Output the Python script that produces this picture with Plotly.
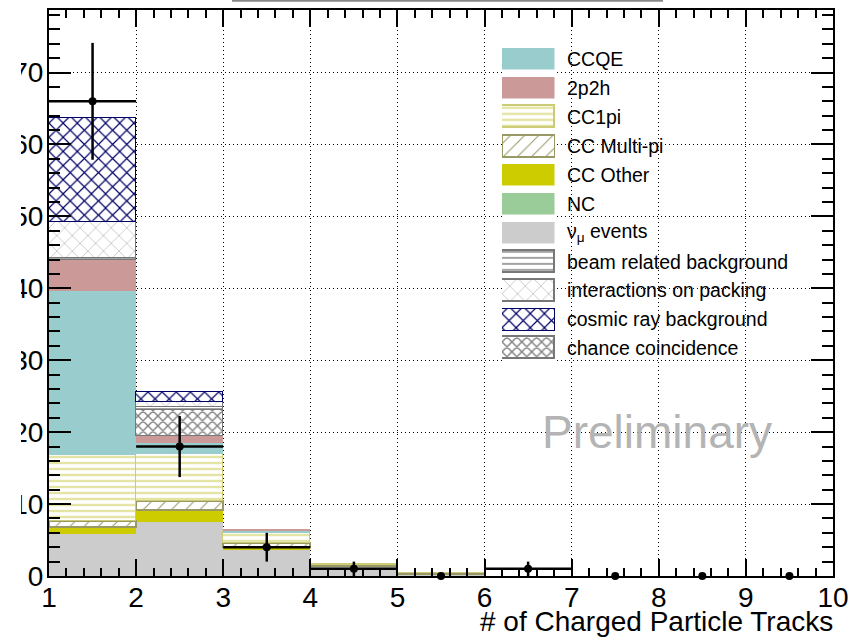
import math
import plotly.graph_objects as go

# Bin edges of the track-multiplicity histogram
bin_edges = [1, 2, 3, 4, 5, 6, 7, 8, 9, 10]

# Stacked MC components per bin (bottom of the stack first)
numu_events = [5.9, 7.45, 3.6, 1.3, 0.3, 0, 0, 0, 0]
cc_other = [0.8, 1.6, 0.45, 0.05, 0, 0, 0, 0, 0]
nc = [0.1, 0.1, 0.05, 0, 0, 0, 0, 0, 0]
cc_multipi = [0.8, 1.25, 0.55, 0.15, 0.05, 0, 0, 0, 0]
cc1pi = [9.2, 6.6, 1.4, 0.1, 0.05, 0, 0, 0, 0]
ccqe = [22.8, 1.5, 0.2, 0, 0, 0, 0, 0, 0]
two_p_two_h = [4.3, 0.9, 0.3, 0, 0, 0, 0, 0, 0]
chance_coincidence = [0, 3.7, 0, 0, 0, 0, 0, 0, 0]
beam_related = [0.25, 0.45, 0, 0, 0, 0, 0, 0, 0]
packing = [5.1, 0.7, 0, 0, 0, 0, 0, 0, 0]
cosmic = [14.4, 1.3, 0, 0, 0, 0, 0, 0, 0]

# Observed data counts
data_counts = [66, 18, 4, 1, 0, 1, 0, 0, 0]

y_ticks = [0, 10, 20, 30, 40, 50, 60, 70]
x_ticks = [1, 2, 3, 4, 5, 6, 7, 8, 9, 10]

FONT = "Liberation Sans, Arial, Helvetica, sans-serif"

# Drawing style for each component
styles = {
    "CCQE": dict(color="#99CCCC"),
    "2p2h": dict(color="#CC9999"),
    "CC1pi": dict(color="#FFFFFF", line="#CCCC77", lw=1.5,
                  pattern=dict(shape="-", fgcolor="#E4E4A4", bgcolor="#FFFFFF", size=6, solidity=0.4)),
    "CC Multi-pi": dict(color="#FFFFFF", line="#999966", lw=2,
                        pattern=dict(shape="/", fgcolor="#999966", bgcolor="#FFFFFF", size=10, solidity=0.1)),
    "CC Other": dict(color="#CCCC00"),
    "NC": dict(color="#99CC99"),
    "nu_mu": dict(color="#CCCCCC"),
    "beam related background": dict(color="#FFFFFF", line="#777777", lw=1.5,
                                    pattern=dict(shape="-", fgcolor="#999999", bgcolor="#FFFFFF", size=6, solidity=0.3)),
    "interactions on packing": dict(color="#FFFFFF", line="#777777", lw=1.5,
                                    pattern=dict(shape="x", fgcolor="#C4C4C4", bgcolor="#FFFFFF", size=11, solidity=0.15)),
    "cosmic ray background": dict(color="#FFFFFF", line="#000066", lw=1,
                                  pattern=dict(shape="x", fgcolor="#000066", bgcolor="#FFFFFF", size=10, solidity=0.22)),
    "chance coincidence": dict(color="#FFFFFF", line="#777777", lw=1.5,
                               pattern=dict(shape="x", fgcolor="#808080", bgcolor="#FFFFFF", size=7, solidity=0.36)),
}

# Stack order, bottom to top
stack = [
    ("nu_mu", numu_events),
    ("CC Other", cc_other),
    ("NC", nc),
    ("CC Multi-pi", cc_multipi),
    ("CC1pi", cc1pi),
    ("CCQE", ccqe),
    ("2p2h", two_p_two_h),
    ("chance coincidence", chance_coincidence),
    ("beam related background", beam_related),
    ("interactions on packing", packing),
    ("cosmic ray background", cosmic),
]

# Legend order, top to bottom
legend_entries = [
    ("CCQE", "CCQE"),
    ("2p2h", "2p2h"),
    ("CC1pi", "CC1pi"),
    ("CC Multi-pi", "CC Multi-pi"),
    ("CC Other", "CC Other"),
    ("NC", "NC"),
    ("nu_mu", "ν<sub>μ</sub> events"),
    ("beam related background", "beam related background"),
    ("interactions on packing", "interactions on packing"),
    ("cosmic ray background", "cosmic ray background"),
    ("chance coincidence", "chance coincidence"),
]

centers = [(a + b) / 2 for a, b in zip(bin_edges[:-1], bin_edges[1:])]
widths = [b - a for a, b in zip(bin_edges[:-1], bin_edges[1:])]


def marker_for(key):
    st = styles[key]
    m = dict(color=st["color"], line=dict(color=st.get("line", st["color"]), width=st.get("lw", 0)))
    if "pattern" in st:
        m["pattern"] = dict(fillmode="replace", **st["pattern"])
    return m


fig = go.Figure()

for key, vals in stack:
    fig.add_trace(go.Bar(
        x=centers,
        y=[v if v > 0 else None for v in vals],
        width=widths,
        marker=marker_for(key),
        showlegend=False,
        hoverinfo="skip",
    ))

# Data points with Poisson errors; empty bins get only the marker
err_y = [math.sqrt(n) for n in data_counts]
err_x = [w / 2 if n > 0 else 0 for w, n in zip(widths, data_counts)]
fig.add_trace(go.Scatter(
    x=centers,
    y=data_counts,
    mode="markers",
    marker=dict(color="black", size=8),
    error_y=dict(type="data", array=err_y, color="black", thickness=2.5, width=0),
    error_x=dict(type="data", array=err_x, color="black", thickness=2.5, width=0),
    cliponaxis=False,
    showlegend=False,
))

# Legend swatches drawn on their own small axis pair
n_leg = len(legend_entries)
for i, (key, label) in enumerate(legend_entries):
    fig.add_trace(go.Bar(
        x=[1], y=[i], base=[0], width=[0.76], orientation="h",
        marker=marker_for(key) if "pattern" in styles[key] else
        dict(color=styles[key]["color"], line=dict(color="#FFFFFF", width=0.5)),
        xaxis="x2", yaxis="y2", showlegend=False, hoverinfo="skip",
    ))
    fig.add_annotation(
        x=0.658, xref="paper", y=i, yref="y2",
        text=label, showarrow=False, xanchor="left", yanchor="middle",
        font=dict(family=FONT, size=19.5, color="black"),
    )

axis_common = dict(
    showline=True, linecolor="black", linewidth=2, mirror="allticks",
    ticks="inside", tickcolor="black", tickwidth=2,
    showgrid=True, gridcolor="black", gridwidth=1, griddash="1px,3px",
    zeroline=False,
    tickfont=dict(family=FONT, size=28, color="black"),
)

fig.update_layout(
    width=866, height=639,
    margin=dict(l=49, r=33, t=10, b=63, autoexpand=False),
    paper_bgcolor="white", plot_bgcolor="white",
    barmode="stack", bargap=0,
    xaxis=dict(
        range=[bin_edges[0], bin_edges[-1]], tickvals=x_ticks, ticklen=17,
        minor=dict(dtick=0.2, ticklen=8, tickcolor="black", tickwidth=1.5, showgrid=False, ticks="inside"),
        ticklabelstandoff=-5,
        **axis_common,
    ),
    yaxis=dict(
        range=[0, 78.7], tickvals=y_ticks, ticklen=22,
        minor=dict(dtick=2, ticklen=11, tickcolor="black", tickwidth=1.5, showgrid=False, ticks="inside"),
        ticklabelstandoff=-2,
        **axis_common,
    ),
    xaxis2=dict(domain=[0.5778, 0.6454], range=[0, 1], anchor="y2", visible=False, fixedrange=True),
    yaxis2=dict(domain=[0.3768, 0.9384], range=[n_leg - 0.5, -0.5], anchor="x2", visible=False, fixedrange=True),
    font=dict(family=FONT, color="black"),
    showlegend=False,
)

# Axis title, right-aligned under the frame
fig.add_annotation(
    x=1.002, xref="paper", y=-63 / 566, yref="paper",
    text="# of Charged Particle Tracks", showarrow=False,
    xanchor="right", yanchor="bottom",
    font=dict(family=FONT, size=28, color="black"),
)

fig.add_annotation(
    x=0.626, xref="paper", y=0.255, yref="paper",
    text="Preliminary", showarrow=False, xanchor="left", yanchor="middle",
    font=dict(family=FONT, size=46, color="#B4B4B4"),
)

# Lower edge of the title box above the frame
fig.add_shape(type="line", xref="paper", yref="paper",
              x0=0.2334, x1=0.7832, y0=1.0165, y1=1.0165,
              line=dict(color="#888888", width=2))

# Page edge trims the left part of the y tick labels
fig.add_shape(type="rect", xref="paper", yref="paper", layer="above",
              x0=-0.07, x1=(21 - 49) / 784, y0=-0.12, y1=1.03,
              fillcolor="white", line=dict(width=0))

fig.write_html("out.html")
